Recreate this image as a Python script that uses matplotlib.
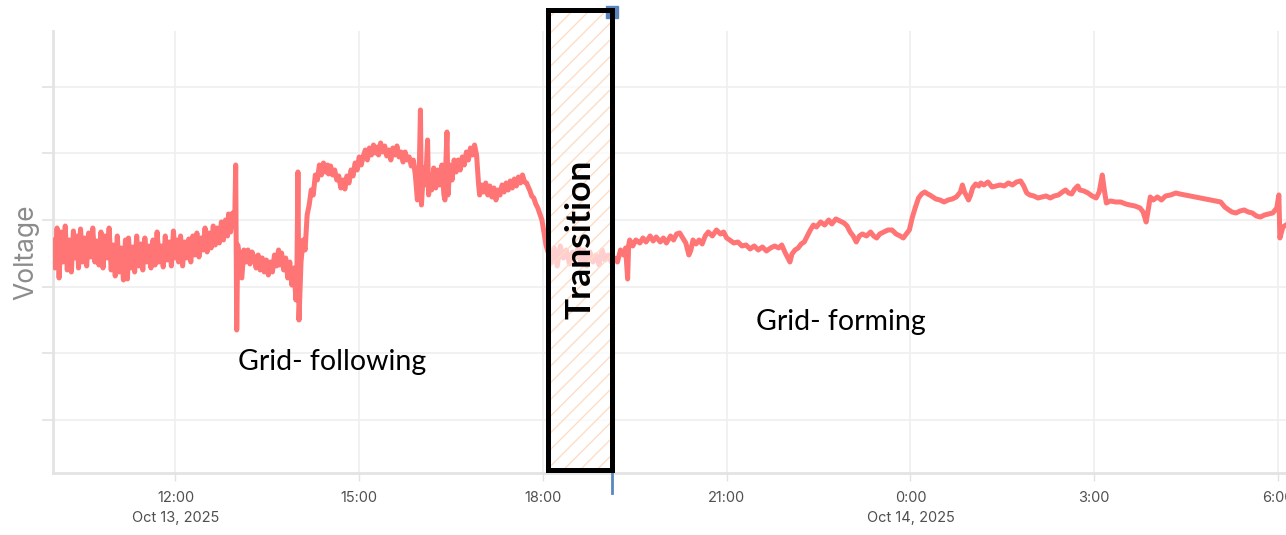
import matplotlib
matplotlib.use("Agg")
import matplotlib.pyplot as plt
import matplotlib.transforms as mtransforms
from matplotlib.patches import Rectangle
import pandas as pd

# ======================== DATA ========================
# minutes after Oct 13 2025 10:00, voltage (V)
minutes = [
    0, 2, 4, 6, 8, 10, 12, 14, 16, 18, 20, 22, 24, 25, 27, 29, 31, 33, 35, 37,
    39, 41, 43, 45, 47, 49, 51, 53, 55, 57, 59, 61, 63, 65, 67, 69, 71, 73, 74, 76,
    78, 80, 82, 84, 86, 88, 90, 92, 94, 96, 98, 100, 102, 104, 106, 108, 110, 112, 114, 116,
    118, 120, 122, 123, 125, 127, 129, 131, 133, 135, 137, 139, 141, 143, 145, 147, 149, 151, 153, 155,
    157, 159, 161, 163, 165, 167, 169, 171, 172, 174, 176, 178, 179, 180, 181, 185, 187,
    189, 191, 193, 195, 197, 199, 201, 203, 205, 207, 209, 211, 213, 215, 217, 219, 221, 222, 224,
    226, 228, 230, 232, 234, 236, 238, 239, 240, 241, 243, 245, 247, 249, 251, 253, 255, 257, 259, 261,
    263, 265, 267, 269, 270, 272, 274, 276, 278, 280, 282, 284, 286, 288, 290, 292, 294, 296, 298, 300,
    302, 304, 306, 308, 310, 312, 314, 316, 318, 319, 321, 323, 325, 327, 329, 331, 333, 335, 337, 339,
    341, 343, 345, 347, 349, 351, 353, 355, 357, 359, 360, 361, 363, 365, 367, 368, 369, 371, 373, 375,
    377, 379, 381, 383, 384, 385, 386, 387, 389, 391, 393, 395, 397, 399, 401, 403, 405, 407, 409, 411,
    413, 415, 417, 418, 420, 422, 424, 426, 428, 430, 432, 434, 436, 438, 440, 442, 444, 446, 448, 450,
    452, 454, 456, 458, 460, 462, 464, 466, 467, 469, 471, 473, 475, 477, 479, 481, 483,
    485, 488, 491, 494, 497, 500, 503, 506, 509, 512, 515, 517, 520, 523, 526, 529, 532, 535, 538, 541,
    544, 547, 550, 553, 556, 559, 561, 563, 564, 565, 568, 571, 575, 578, 581, 585, 588, 591, 595, 598,
    601, 605, 608, 611, 614, 617, 620, 623, 625, 627, 630, 633, 636, 639, 642, 646, 650, 654, 657, 660,
    663, 667, 671, 675, 679, 683, 687, 691, 695, 699, 703, 707, 711, 714, 717, 720, 722, 724, 727, 730,
    733, 736, 739, 742, 745, 748, 752, 756, 760, 763, 767, 771, 775, 778, 781, 784, 787, 790, 793, 797,
    801, 804, 807, 810, 814, 818, 822, 826, 830, 833, 836, 839, 842, 845, 848, 851, 854, 857, 859, 862,
    865, 869, 873, 877, 881, 885, 889, 891, 893, 895, 897, 899, 901, 904, 907, 909, 912, 916, 920, 924,
    928, 932, 936, 940, 944, 948, 951, 954, 957, 961, 965, 969, 973, 977, 981, 985, 989, 992, 995, 998,
    1001, 1004, 1006, 1010, 1014, 1018, 1022, 1025, 1028, 1030, 1032, 1036, 1041, 1046, 1051, 1055, 1060, 1065, 1068, 1071,
    1073, 1075, 1078, 1082, 1086, 1090, 1095, 1100, 1104, 1109, 1114, 1119, 1124, 1129, 1134, 1139, 1144, 1148, 1152, 1155,
    1159, 1163, 1167, 1171, 1175, 1179, 1183, 1187, 1191, 1195, 1199, 1201, 1202, 1205, 1208,
]
voltage = [
    231.40, 230.56, 231.76, 230.26, 231.64, 230.74, 231.82, 230.50, 231.40, 230.44,
    231.67, 230.86, 231.52, 230.56, 231.73, 230.74, 231.46, 230.62, 231.61, 230.89,
    231.76, 230.74, 231.37, 230.65, 231.64, 230.56, 231.52, 230.86, 231.76, 230.50,
    231.25, 230.32, 231.52, 230.44, 231.16, 230.20, 231.40, 230.23, 231.46, 230.56,
    231.19, 230.44, 231.52, 230.62, 231.28, 230.50, 231.46, 230.74, 231.22, 230.56,
    231.40, 230.65, 231.64, 230.74, 231.22, 230.59, 231.52, 230.80, 231.34, 230.62,
    231.67, 230.86, 231.40, 230.74, 231.52, 230.62, 231.34, 230.86, 231.43, 230.74,
    231.52, 230.95, 231.61, 230.89, 231.46, 231.10, 231.76, 231.04, 231.61, 231.16,
    231.82, 231.25, 231.76, 231.31, 231.94, 231.40, 232.00, 231.52, 232.18, 231.64,
    232.21, 231.82, 233.65, 228.70, 231.25, 230.26, 231.10,
    230.74, 231.10, 230.68, 231.04, 230.86, 230.56, 230.95, 230.50, 230.86, 230.44,
    230.80, 230.35, 230.74, 230.44, 230.95, 230.62, 231.10, 230.65, 231.01, 230.50,
    230.86, 230.26, 230.74, 230.05, 230.56, 229.60, 230.50, 233.44, 229.00, 230.74,
    231.40, 231.10, 232.15, 232.45, 232.90, 232.75, 233.35, 233.20, 233.65, 233.35,
    233.71, 233.44, 233.65, 233.38, 233.62, 233.35, 233.50, 233.20, 233.32, 232.96,
    233.20, 232.93, 233.32, 233.11, 233.50, 233.32, 233.71, 233.50, 233.89, 233.65,
    233.92, 234.10, 233.80, 234.16, 233.95, 234.25, 234.01, 234.19, 233.95, 234.31,
    234.04, 234.22, 233.92, 234.10, 233.80, 234.16, 233.95, 234.22, 233.89, 234.04,
    233.74, 234.04, 233.80, 233.89, 233.62, 233.80, 233.35, 232.60, 233.74, 235.30,
    232.45, 233.56, 233.05, 234.40, 232.75, 233.35, 232.90, 233.56, 232.96, 233.50,
    233.05, 233.65, 232.75, 232.60, 233.80, 234.64, 232.75, 233.65, 233.20, 233.80,
    233.44, 233.80, 233.50, 233.89, 233.65, 234.04, 233.80, 234.16, 233.95, 234.25,
    233.95, 233.05, 232.75, 233.05, 232.84, 233.11, 232.75, 233.02, 232.69, 232.96,
    232.60, 232.90, 232.75, 233.05, 232.84, 233.11, 232.90, 233.17, 232.96, 233.23,
    233.02, 233.29, 233.11, 233.35, 233.14, 233.11, 232.96, 232.90, 232.72, 232.66,
    232.48, 232.36, 232.18, 232.00, 231.64, 231.25,
    231.04, 230.74, 231.16, 230.62, 231.22, 230.86, 231.10, 230.68, 231.04, 230.86,
    231.25, 230.74, 231.10, 230.62, 231.04, 230.74, 230.95, 230.65, 231.10, 230.80,
    230.95, 230.74, 230.86, 230.74, 231.10, 230.95, 231.16, 230.23, 231.25, 231.40,
    231.22, 231.40, 231.31, 231.46, 231.34, 231.52, 231.37, 231.49, 231.34, 231.46,
    231.31, 231.52, 231.40, 231.58, 231.61, 231.46, 231.31, 230.95, 231.10, 231.40,
    231.28, 231.40, 231.28, 231.52, 231.64, 231.52, 231.70, 231.58, 231.64, 231.46,
    231.40, 231.31, 231.34, 231.22, 231.25, 231.13, 231.22, 231.10, 231.19, 231.07,
    231.16, 231.22, 231.16, 231.25, 231.04, 230.86, 230.74, 230.98, 231.10, 231.16,
    231.28, 231.34, 231.52, 231.70, 231.85, 231.79, 231.94, 231.85, 232.00, 231.88,
    232.03, 231.97, 231.91, 231.82, 231.64, 231.52, 231.34, 231.52, 231.58, 231.52,
    231.64, 231.52, 231.46, 231.58, 231.64, 231.70, 231.70, 231.58, 231.52, 231.46,
    231.58, 231.70, 232.09, 232.39, 232.66, 232.78, 232.84, 232.78, 232.75, 232.69,
    232.63, 232.60, 232.54, 232.60, 232.63, 232.69, 232.84, 233.05, 232.84, 232.72,
    232.60, 232.75, 232.96, 233.08, 233.02, 233.11, 233.05, 233.14, 232.99, 233.02,
    233.05, 233.02, 233.11, 233.05, 233.14, 233.17, 233.02, 232.81, 232.75, 232.72,
    232.66, 232.69, 232.72, 232.66, 232.72, 232.75, 232.84, 232.90, 232.81, 232.78,
    232.93, 233.02, 232.90, 232.87, 232.81, 232.72, 232.66, 232.84, 233.35, 232.90,
    232.51, 232.57, 232.54, 232.54, 232.48, 232.45, 232.42, 232.36, 232.24, 231.94,
    232.30, 232.69, 232.60, 232.69, 232.60, 232.72, 232.75, 232.81, 232.78, 232.75,
    232.72, 232.69, 232.66, 232.63, 232.60, 232.57, 232.54, 232.39, 232.30, 232.24,
    232.21, 232.27, 232.30, 232.24, 232.21, 232.12, 232.09, 232.15, 232.18, 232.21,
    232.36, 232.75, 231.46, 231.79, 231.85,
]

start = pd.Timestamp("2025-10-13 10:00")
end = pd.Timestamp("2025-10-14 06:08")
times = start + pd.to_timedelta(minutes, unit="m")

tick_times = pd.to_datetime(["2025-10-13 12:00", "2025-10-13 15:00", "2025-10-13 18:00",
                             "2025-10-13 21:00", "2025-10-14 00:00", "2025-10-14 03:00",
                             "2025-10-14 06:00"])
tick_labels = ["12:00\nOct 13, 2025", "15:00", "18:00", "21:00", "0:00\nOct 14, 2025", "3:00", "6:00"]
volt_ticks = [226, 228, 230, 232, 234, 236]

transition_start = pd.Timestamp("2025-10-13 18:05")
transition_end = pd.Timestamp("2025-10-13 19:08")

# ======================== PLOT ========================
plt.rcParams['font.family'] = ['Inter', 'DejaVu Sans']
plt.rcParams['hatch.linewidth'] = 1.0

fig = plt.figure(figsize=(12.86, 5.35), dpi=100)
ax = fig.add_axes([0.0412, 0.1159, 0.9588, 0.8262])

ax.plot(times, voltage, color='#ff7474', lw=3.6, solid_joinstyle='round', zorder=3)

ax.set_xlim(start, end)
ax.set_ylim(224.41, 237.67)

# grid + axes styling
ax.set_yticks(volt_ticks)
ax.set_yticklabels([])
ax.set_xticks(tick_times)
ax.set_xticklabels(tick_labels, fontsize=10.5, color='#505050', linespacing=1.55)
ax.grid(True, color='#efefef', lw=1.2, zorder=0)
ax.tick_params(axis='y', length=8, width=1.2, color='#e2e2e2')
ax.tick_params(axis='x', length=6, width=1.0, color='#e2e2e2', pad=7)
for side in ['top', 'right']:
    ax.spines[side].set_visible(False)
for side in ['left', 'bottom']:
    ax.spines[side].set_color('#e3e3e3')
    ax.spines[side].set_linewidth(2)

ax.set_ylabel('Voltage', fontsize=19, color='#8c8c8c')
ax.yaxis.set_label_coords(-0.0114, 0.5)

# transition box
trans = mtransforms.blended_transform_factory(ax.transData, ax.transAxes)
x0 = matplotlib.dates.date2num(transition_start)
x1 = matplotlib.dates.date2num(transition_end)
hatch_box = Rectangle((x0, 0.007), x1 - x0, 1.04, transform=trans, facecolor=(1, 1, 1, 0.65),
                      edgecolor='#ffdcc4', hatch='//', lw=0.5, clip_on=False, zorder=4)
ax.add_patch(hatch_box)

# marker at the end of the transition
ax.plot([x1, x1], [-0.045, 0.0], transform=trans, color='#5b86bd', lw=2, clip_on=False, zorder=4)
ax.plot([x1], [1.043], transform=trans, marker='s', ms=8, color='#5b86bd', clip_on=False, zorder=4)

border = Rectangle((x0, 0.007), x1 - x0, 1.04, transform=trans, fill=False,
                   edgecolor='black', lw=3.6, clip_on=False, zorder=5)
ax.add_patch(border)

ax.text(x0 + (x1 - x0) / 2, 231.43, 'Transition', rotation=90, ha='center', va='center',
        fontsize=25.5, fontweight='bold', family=['Lato', 'DejaVu Sans'], zorder=6)
ax.text(start + pd.Timedelta(minutes=273), 227.74, 'Grid- following', ha='center', va='center',
        fontsize=20.5, family=['Lato', 'DejaVu Sans'], zorder=6)
ax.text(start + pd.Timedelta(minutes=772), 228.94, 'Grid- forming', ha='center', va='center',
        fontsize=20.5, family=['Lato', 'DejaVu Sans'], zorder=6)

fig.savefig('out.png', dpi=100)
